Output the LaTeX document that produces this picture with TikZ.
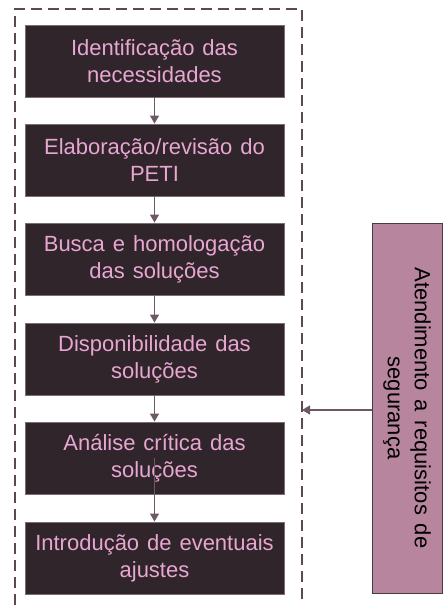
\documentclass[tikz,border=0pt]{standalone}
\usepackage{fontspec}
\setmainfont{Liberation Sans}
\usetikzlibrary{arrows.meta}
\definecolor{boxfill}{HTML}{30252A}
\definecolor{boxtext}{HTML}{E8A6D2}
\definecolor{boxedge}{HTML}{7A6E75}
\definecolor{sidefill}{HTML}{B8859F}
\definecolor{sideedge}{HTML}{4A3A44}
\definecolor{linecol}{HTML}{6E5866}
\definecolor{dashcol}{HTML}{5A4852}
\newcommand{\boxfont}{\fontsize{22}{27}\selectfont\spaceskip=0.36em plus 0.1em\relax}
\newcommand{\sidefont}{\fontsize{22}{27}\selectfont\spaceskip=0.4em plus 0.1em\relax}
\tikzset{
  stepbox/.style={draw=boxedge, line width=0.9pt, fill=boxfill, text=boxtext,
    minimum width=259pt, minimum height=72pt, align=center, inner sep=2pt,
    font=\boxfont},
  sidebox/.style={draw=sideedge, line width=1pt, fill=sidefill, text=black,
    minimum width=370pt, minimum height=70pt, align=center, inner sep=2pt,
    font=\sidefont, rotate=-90},
  conn/.style={draw=linecol, line width=1.2pt, -{Triangle[length=8pt,width=9pt]}},
  frame/.style={draw=dashcol, line width=1.5pt, dash pattern=on 11pt off 6pt}
}
\begin{document}
\begin{tikzpicture}[x=1pt,y=-1pt]
\useasboundingbox (0,0) rectangle (444,605);
\draw[frame] (15,605) -- (15,9) -- (302,9) -- (302,605);
\coordinate (dr) at (302,410);
\node[stepbox] (b1) at (154.5,61) {Identificação das\\necessidades};
\node[stepbox] (b2) at (154.5,160) {Elaboração/revisão do\\PETI};
\node[stepbox] (b3) at (154.5,259) {Busca e homologação\\das soluções};
\node[stepbox] (b4) at (154.5,359) {Disponibilidade das\\soluções};
\node[stepbox] (b5) at (154.5,458) {Análise crítica das\\soluções};
\node[stepbox] (b6) at (154.5,558) {Introdução de eventuais\\ajustes};
\node[sidebox] (side) at (407,408) {Atendimento a requisitos de\\segurança};
\draw[conn] (b1) -- (b2);
\draw[conn] (b2) -- (b3);
\draw[conn] (b3) -- (b4);
\draw[conn] (b4) -- (b5);
\draw[conn] (b5.center) -- (b6.north);
\draw[conn] (side.south |- dr) -- (dr);
\end{tikzpicture}
\end{document}
